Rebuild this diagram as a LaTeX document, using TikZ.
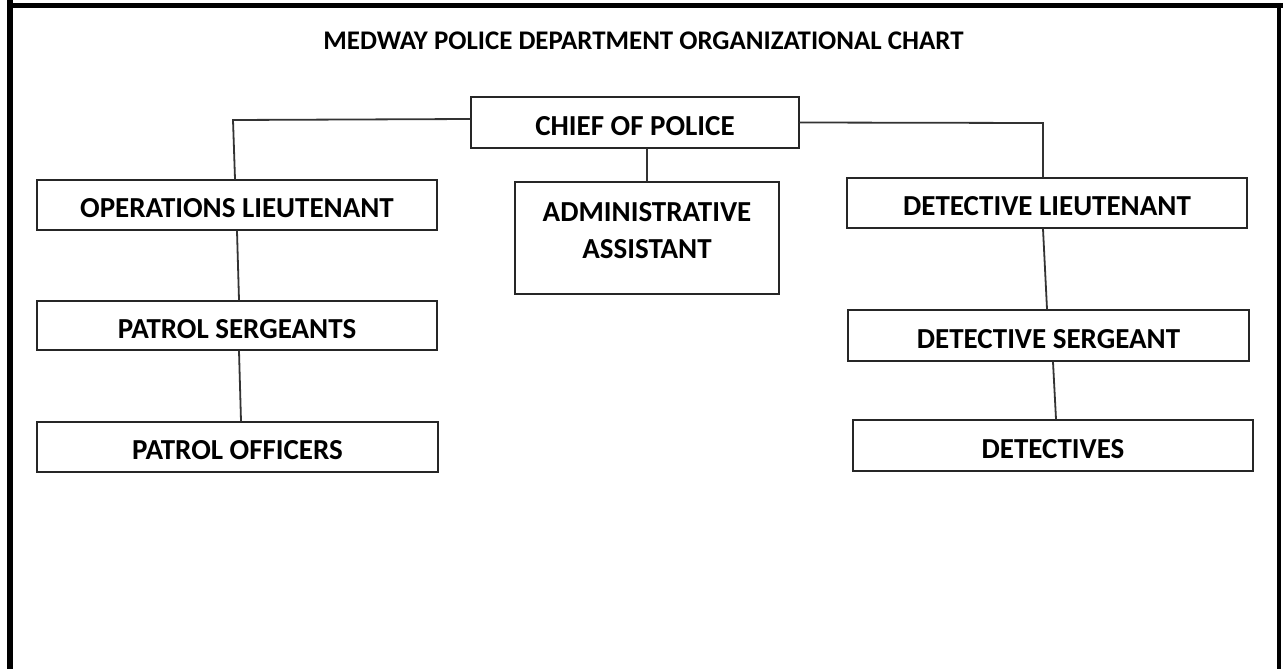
\documentclass[tikz,border=0pt]{standalone}
\usepackage{fontspec}
\setmainfont{Carlito}
\colorlet{linecol}{black!80}
\tikzstyle{orgbox}=[draw=black!85, line width=1pt, inner sep=0pt,
minimum width=200pt, minimum height=25pt,
font=\fontsize{14.5}{18.5}\selectfont\bfseries,
text height=12.8pt, text depth=0pt]
\tikzstyle{link}=[linecol, line width=0.9pt, line cap=round]
\tikzstyle{frameline}=[black]

\begin{document}
\begin{tikzpicture}[x=0.5pt,y=-0.5pt]
  \useasboundingbox (0,0) rectangle (1283,669);
  % Frame
  \draw[frameline,line width=3pt] (10,0) -- (10,669);
  \draw[frameline,line width=2.5pt] (8.5,5.5) -- (1283,5.5);
  \draw[frameline,line width=2pt] (1279,4) -- (1279,669);
  % Title
  \node[anchor=base, font=\fontsize{13.45}{16}\selectfont\bfseries]
    (title) at (643.5,49.6) {MEDWAY POLICE DEPARTMENT ORGANIZATIONAL CHART};
  % Boxes
  \node[orgbox, minimum width=164pt, minimum height=25.5pt]
    (chief) at (635,122.5) {CHIEF OF POLICE};
  \node[orgbox] (opl) at (237,205) {OPERATIONS LIEUTENANT};
  \node[orgbox, minimum width=132pt, minimum height=56pt, align=center,
    text height=31.3pt, text depth=11pt] (adm) at (647,238) {ADMINISTRATIVE\\ASSISTANT};
  \node[orgbox] (dlt) at (1047,203) {DETECTIVE LIEUTENANT};
  \node[orgbox, minimum height=24.5pt] (psgt) at (237,325.5) {PATROL SERGEANTS};
  \node[orgbox, minimum width=200.5pt] (pof) at (237.5,447) {PATROL OFFICERS};
  \node[orgbox, minimum width=200.5pt, minimum height=25.5pt]
    (dsgt) at (1048.5,335.5) {DETECTIVE SERGEANT};
  \node[orgbox, minimum height=25.5pt] (det) at (1053,445.5) {DETECTIVES};
  % Links
  \coordinate (lcorner) at (233,120);
  \coordinate (rcorner) at (1043,123);
  \draw[link] ([yshift=1.75pt]chief.west) -- (lcorner) -- ([xshift=-1pt]opl.north);
  \draw[link] (chief.east) -- (rcorner) -- ([xshift=-2pt]dlt.north);
  \draw[link] (chief.south -| adm.north) -- (adm.north);
  \draw[link] (opl.south) -- ([xshift=1pt]psgt.north);
  \draw[link] ([xshift=1pt]psgt.south) -- ([xshift=1.75pt]pof.north);
  \draw[link] ([xshift=-2pt]dlt.south) -- ([xshift=-0.75pt]dsgt.north);
  \draw[link] ([xshift=2.25pt]dsgt.south) -- ([xshift=1.5pt]det.north);
\end{tikzpicture}
\end{document}
